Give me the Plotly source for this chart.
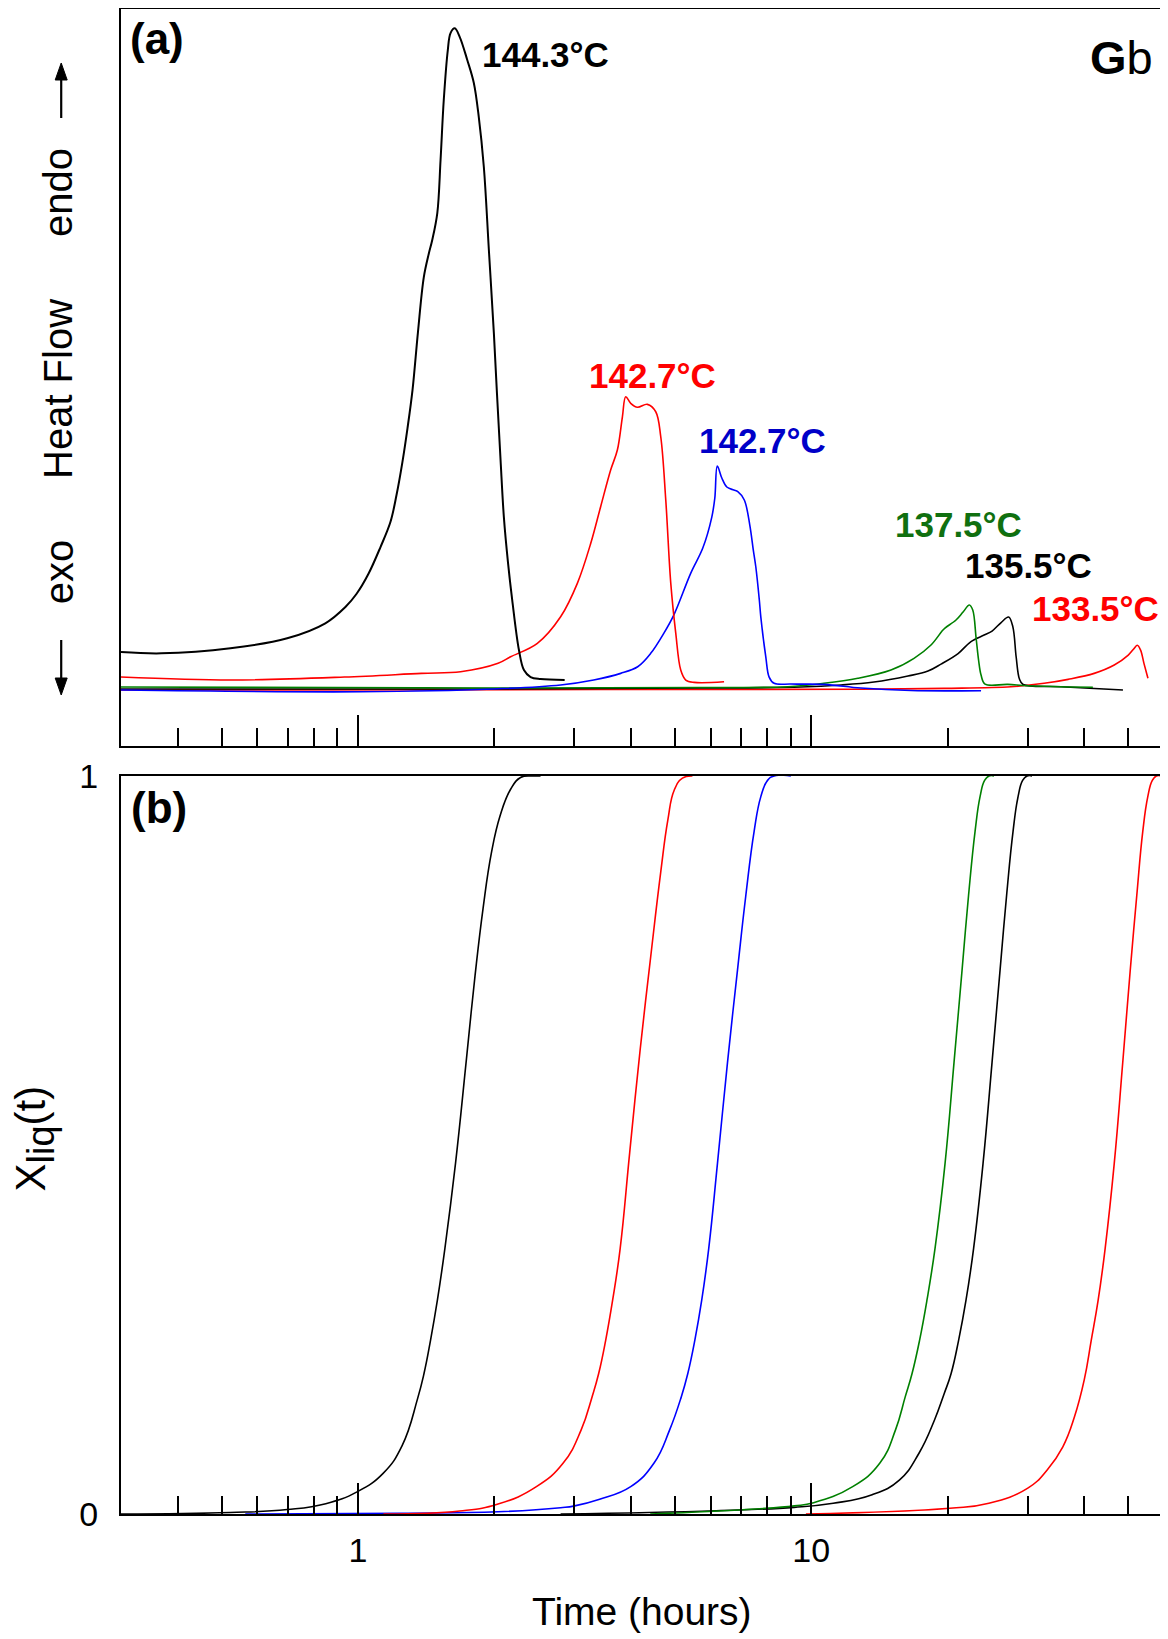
import math
import plotly.graph_objects as go

# ---------------- Panel (a): heat flow (arbitrary units) ----------------
hf_t_1443 = [0.300, 0.368, 0.523, 0.698, 0.847, 0.938, 0.992, 1.054, 1.121, 1.179, 1.216, 1.253, 1.286,
             1.319, 1.356, 1.397, 1.433, 1.458, 1.496, 1.521, 1.546, 1.578, 1.600, 1.635, 1.677, 1.742,
             1.801, 1.847, 1.895, 1.944, 1.994, 2.029, 2.063, 2.098, 2.143, 2.189, 2.265, 2.323, 2.403,
             2.528, 2.857]
hf_v_1443 = [12.67, 12.49, 13.17, 14.53, 16.56, 18.77, 20.53, 23.24, 26.90, 30.28, 33.94, 38.41, 43.02,
             48.17, 56.03, 63.48, 66.67, 68.50, 72.15, 79.34, 87.47, 94.24, 96.54, 97.18, 96.00, 92.89,
             89.77, 85.16, 78.39, 67.14, 55.89, 46.88, 38.69, 30.96, 24.73, 19.72, 12.94, 10.23, 9.28,
             9.01, 8.88]

hf_t_1427r = [0.300, 0.523, 0.933, 1.380, 1.684, 2.037, 2.171, 2.487, 2.799, 3.047, 3.262, 3.430, 3.609,
              3.734, 3.831, 3.896, 3.996, 4.135, 4.350, 4.538, 4.655, 4.775, 4.898, 5.024, 5.152, 5.285,
              5.513, 6.421]
hf_v_1427r = [9.28, 8.88, 9.28, 9.78, 10.0, 11.14, 12.03, 13.85, 17.45, 21.98, 27.40, 32.36, 37.33,
              40.04, 44.55, 47.26, 46.37, 45.83, 46.23, 45.23, 41.84, 33.27, 21.98, 15.20, 10.23, 8.88,
              8.56, 8.64]

hf_t_1427b = [0.300, 1.012, 1.991, 2.799, 3.311, 3.798, 4.140, 4.423, 4.726, 4.973, 5.422, 5.763, 6.033,
              6.126, 6.204, 6.348, 6.511, 6.747, 6.885, 7.116, 7.317, 7.449, 7.545, 7.680, 7.739, 7.938,
              8.073, 8.281, 9.015, 10.66, 12.87, 16.59, 23.69]
hf_v_1427b = [7.52, 7.29, 7.66, 8.20, 8.88, 9.78, 10.68, 12.49, 15.20, 17.68, 23.37, 26.76, 30.96,
              33.54, 37.87, 36.25, 35.03, 34.62, 34.42, 33.27, 29.88, 26.49, 24.19, 19.72, 17.41, 11.99,
              9.28, 8.43, 8.33, 8.29, 7.79, 7.45, 7.43]

hf_t_1375 = [0.300, 2.063, 5.705, 8.878, 10.66, 12.67, 14.99, 16.85, 18.37, 19.43, 19.72, 20.86, 21.62,
             22.32, 22.71, 23.10, 23.39, 23.69, 24.17, 27.14, 30.04, 41.80]
hf_v_1375 = [7.93, 7.79, 7.86, 7.97, 8.43, 9.11, 10.23, 11.82, 13.62, 15.51, 15.92, 17.01, 18.09,
             19.04, 18.36, 14.57, 11.59, 9.55, 8.33, 8.29, 8.10, 7.89]

hf_t_1355 = [0.300, 2.063, 5.705, 9.485, 11.63, 13.75, 16.34, 18.09, 19.33, 21.08, 22.51, 24.06, 25.05,
             26.23, 27.25, 27.84, 28.31, 28.79, 29.33, 35.59, 48.71]
hf_v_1355 = [7.66, 7.66, 7.79, 7.93, 8.20, 8.60, 9.42, 10.09, 11.04, 12.47, 14.09, 14.97, 15.51,
             16.67, 17.41, 16.10, 12.03, 9.01, 8.27, 7.97, 7.52]

hf_t_1335 = [0.300, 3.430, 12.87, 19.63, 27.59, 32.64, 36.87, 42.09, 46.60, 50.04, 51.58, 52.38, 53.27,
             54.19, 55.30]
hf_v_1335 = [7.52, 7.59, 7.62, 7.75, 7.97, 8.43, 8.97, 9.78, 10.91, 12.26, 13.17, 13.58, 12.94,
             11.14, 9.11]

# ---------------- Panel (b): liquid fraction X_liq(t) ----------------
x_t_1443 = [0.300, 0.522, 0.698, 0.849, 0.995, 1.136, 1.252, 1.353, 1.398, 1.445, 1.497, 1.555, 1.641,
            1.735, 1.812, 1.887, 1.971, 2.058, 2.171, 2.284, 2.440, 2.528]
x_v_1443 = [0.0, 0.002, 0.006, 0.014, 0.030, 0.055, 0.093, 0.156, 0.190, 0.235, 0.290, 0.360, 0.475,
            0.617, 0.729, 0.820, 0.897, 0.946, 0.982, 0.998, 1.0, 1.0]

x_t_1427r = [1.138, 1.676, 2.037, 2.475, 2.836, 3.107, 3.285, 3.395, 3.518, 3.646, 3.788, 3.976, 4.194,
             4.423, 4.655, 4.825, 4.986, 5.197, 5.468]
x_v_1427r = [0.0, 0.004, 0.0135, 0.037, 0.069, 0.114, 0.159, 0.190, 0.235, 0.290, 0.360, 0.490, 0.630,
             0.755, 0.870, 0.940, 0.981, 0.997, 1.0]

x_t_1427b = [0.564, 1.242, 2.037, 2.799, 3.006, 3.413, 3.996, 4.499, 4.870, 5.168, 5.339, 5.533, 5.733,
             5.940, 6.209, 6.534, 6.874, 7.171, 7.480, 7.739, 8.007, 8.281, 9.015]
x_v_1427b = [0.0, 0.001, 0.003, 0.0085, 0.011, 0.020, 0.037, 0.069, 0.114, 0.159, 0.190, 0.235, 0.290,
             0.360, 0.475, 0.612, 0.737, 0.838, 0.925, 0.972, 0.994, 1.0, 1.0]

x_t_1375 = [4.412, 7.524, 9.173, 10.12, 12.34, 14.17, 15.34, 16.12, 16.68, 17.33, 18.00, 18.75, 19.73,
            20.65, 21.51, 22.23, 22.98, 23.57, 24.12, 24.67, 25.30]
x_v_1375 = [0.0, 0.0068, 0.011, 0.0153, 0.037, 0.069, 0.114, 0.159, 0.190, 0.235, 0.290, 0.360, 0.475,
            0.612, 0.737, 0.838, 0.925, 0.972, 0.994, 1.0, 1.0]

x_t_1355 = [2.799, 6.174, 9.173, 11.18, 13.62, 15.64, 17.27, 18.69, 19.64, 20.34, 21.13, 21.95, 22.81,
            23.93, 25.05, 26.09, 26.97, 27.87, 28.59, 29.26, 29.93, 30.70]
x_v_1355 = [0.0, 0.0045, 0.009, 0.0145, 0.026, 0.046, 0.082, 0.127, 0.163, 0.190, 0.235, 0.290, 0.360,
            0.475, 0.612, 0.737, 0.838, 0.925, 0.972, 0.994, 1.0, 1.0]

x_t_1335 = [9.730, 20.22, 24.65, 30.04, 33.18, 35.89, 38.09, 40.02, 41.45, 42.95, 44.50, 46.60, 48.66,
            50.55, 52.25, 53.87, 55.26, 56.54, 57.70, 59.18]
x_v_1335 = [0.0, 0.0077, 0.0145, 0.035, 0.060, 0.091, 0.132, 0.182, 0.235, 0.290, 0.360, 0.475, 0.612,
            0.737, 0.838, 0.925, 0.972, 0.994, 1.0, 1.0]

# labels
temp_labels = ["144.3°C", "142.7°C", "142.7°C", "137.5°C", "135.5°C", "133.5°C"]
label_t = [1.855, 3.193, 5.585, 15.18, 21.60, 30.42]
label_v = [93.7, 50.1, 41.3, 29.9, 24.4, 18.6]
curve_colors = ["#000000", "#ff0000", "#0000ff", "#008000", "#000000", "#ff0000"]
label_colors = ["#000000", "#ff0000", "#0000c8", "#107010", "#000000", "#ff0000"]
line_widths = [2.0, 1.6, 1.6, 1.6, 1.6, 1.6]

major_ticks = [1, 10]
minor_ticks = [0.4, 0.5, 0.6, 0.7, 0.8, 0.9, 2, 3, 4, 5, 6, 7, 8, 9, 20, 30, 40, 50]

FONT = "Liberation Sans, Arial, sans-serif"

hf_series = [(hf_t_1443, hf_v_1443), (hf_t_1427r, hf_v_1427r), (hf_t_1427b, hf_v_1427b),
             (hf_t_1375, hf_v_1375), (hf_t_1355, hf_v_1355), (hf_t_1335, hf_v_1335)]
x_series = [(x_t_1443, x_v_1443), (x_t_1427r, x_v_1427r), (x_t_1427b, x_v_1427b),
            (x_t_1375, x_v_1375), (x_t_1355, x_v_1355), (x_t_1335, x_v_1335)]

fig = go.Figure()
draw_order = [5, 4, 3, 2, 1, 0]
for i in draw_order:
    t, v = hf_series[i]
    fig.add_trace(go.Scatter(x=t, y=v, mode="lines", xaxis="x", yaxis="y",
                             line=dict(color=curve_colors[i], width=line_widths[i], shape="spline", smoothing=1.0),
                             hoverinfo="skip"))
for i in draw_order:
    t, v = x_series[i]
    fig.add_trace(go.Scatter(x=t, y=v, mode="lines", xaxis="x2", yaxis="y2",
                             line=dict(color=curve_colors[i], width=1.6, shape="spline", smoothing=1.3),
                             hoverinfo="skip"))

xcommon = dict(type="log", range=[math.log10(0.3), math.log10(60)], showline=True, linecolor="black",
               linewidth=2, mirror=True, showgrid=False, zeroline=False,
               tickmode="array", tickvals=major_ticks, ticks="inside", ticklen=31, tickwidth=2,
               tickcolor="black",
               minor=dict(tickmode="array", tickvals=minor_ticks, ticks="inside", ticklen=18,
                          tickwidth=2, tickcolor="black", showgrid=False))

# page has an 8px body margin: the figure is sized so the plot area lands where the reference has it
fig.update_layout(
    width=1160, height=1631,
    margin=dict(l=113, r=4, t=1, b=125, autoexpand=False),
    paper_bgcolor="white", plot_bgcolor="white",
    showlegend=False,
    font=dict(family=FONT, color="black"),
    xaxis=dict(**xcommon, anchor="y", showticklabels=False),
    yaxis=dict(domain=[0.5106, 1.0], range=[0, 99.8], showline=True, linecolor="black", linewidth=2,
               mirror=True, showgrid=False, zeroline=False, ticks="", showticklabels=False, anchor="x"),
    xaxis2=dict(**xcommon, anchor="y2", showticklabels=True, ticktext=["1", "10"],
                tickfont=dict(size=34, family=FONT, color="black"), ticklabelstandoff=5),
    yaxis2=dict(domain=[0.0, 0.4904], range=[0, 1], showline=True, linecolor="black", linewidth=2,
                mirror=True, showgrid=False, zeroline=False, ticks="", tickmode="array",
                tickvals=[0, 1], ticktext=["0", "1"], tickfont=dict(size=34, family=FONT, color="black"),
                ticklabelstandoff=14, anchor="x2"),
)

annotations = []
for lab, tx, ty, col in zip(temp_labels, label_t, label_v, label_colors):
    annotations.append(dict(x=math.log10(tx), y=ty, xref="x", yref="y", text="<b>" + lab + "</b>",
                            showarrow=False, xanchor="left", yanchor="middle",
                            font=dict(size=35, color=col, family=FONT)))

annotations += [
    dict(x=0.0068, y=0.9801, xref="paper", yref="paper", text="<b>(a)</b>", showarrow=False,
         xanchor="left", yanchor="middle", font=dict(size=44, family=FONT, color="black")),
    dict(x=0.0077, y=0.4692, xref="paper", yref="paper", text="<b>(b)</b>", showarrow=False,
         xanchor="left", yanchor="middle", font=dict(size=44, family=FONT, color="black")),
    dict(x=0.9914, y=0.9681, xref="paper", yref="paper", text="<b>G</b>b", showarrow=False,
         xanchor="right", yanchor="middle", font=dict(size=47, family=FONT, color="black")),
    dict(x=-0.0599, y=0.8781, xref="paper", yref="paper", text="endo", textangle=-90, showarrow=False,
         xanchor="center", yanchor="middle", font=dict(size=40, family=FONT, color="black")),
    dict(x=-0.0599, y=0.7472, xref="paper", yref="paper", text="Heat Flow", textangle=-90, showarrow=False,
         xanchor="center", yanchor="middle", font=dict(size=40, family=FONT, color="black")),
    dict(x=-0.0599, y=0.6261, xref="paper", yref="paper", text="exo", textangle=-90, showarrow=False,
         xanchor="center", yanchor="middle", font=dict(size=40, family=FONT, color="black")),
    dict(x=-0.0830, y=0.2498, xref="paper", yref="paper",
         text="X<sub><span style='font-size:38px'>liq</span></sub>(t)", textangle=-90,
         showarrow=False, xanchor="center", yanchor="middle", font=dict(size=42, family=FONT, color="black")),
    dict(x=0.4995, y=-0.0651, xref="paper", yref="paper", text="Time (hours)", showarrow=False,
         xanchor="center", yanchor="middle", font=dict(size=39, family=FONT, color="black")),
]
fig.update_layout(annotations=annotations)

# endo / exo arrows drawn as shapes in the left margin (paper coordinates)
arrow_line = dict(color="black", width=2.2)
shapes = [
    dict(type="line", xref="paper", yref="paper", x0=-0.05733, x1=-0.05733, y0=0.92757, y1=0.95415,
         line=arrow_line),
    dict(type="path", xref="paper", yref="paper",
         path="M -0.05733 0.96412 L -0.06309 0.95282 L -0.05158 0.95282 Z",
         fillcolor="black", line=dict(color="black", width=1)),
    dict(type="line", xref="paper", yref="paper", x0=-0.05733, x1=-0.05733, y0=0.58073, y1=0.55415,
         line=arrow_line),
    dict(type="path", xref="paper", yref="paper",
         path="M -0.05733 0.54419 L -0.06309 0.55548 L -0.05158 0.55548 Z",
         fillcolor="black", line=dict(color="black", width=1)),
]
fig.update_layout(shapes=shapes)

fig.write_html("out.html")
